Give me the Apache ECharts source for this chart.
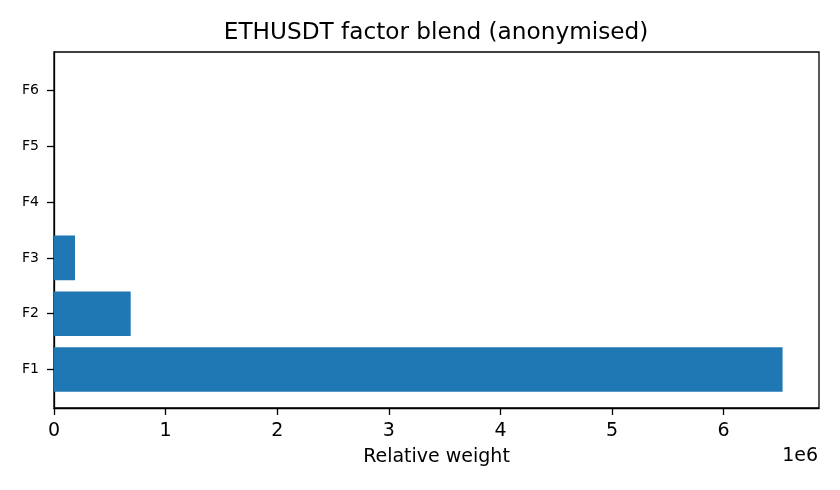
<!DOCTYPE html>
<html><head><meta charset="utf-8">
<script src="https://cdn.jsdelivr.net/npm/echarts@6/dist/echarts.min.js"></script>
<style>html,body{margin:0;padding:0;background:#fff}#c{width:840px;height:490px}</style>
</head><body><div id="c"></div>
<script>
const categories = ["F1", "F2", "F3", "F4", "F5", "F6"];
const weights = [6528000, 687000, 188000, 0, 0, 0];
const xTicks = [0, 1e6, 2e6, 3e6, 4e6, 5e6, 6e6];
const titleText = "ETHUSDT factor blend (anonymised)";
const xLabel = "Relative weight";

const chart = echarts.init(document.getElementById('c'), null, {renderer: 'canvas'});
const font = 'DejaVu Sans';
const maxW = Math.max(...weights) * 1.05;
chart.setOption({
  animation: false,
  grid: {left: 54, right: 21, top: 52, bottom: 82, show: true, borderColor: '#000', borderWidth: 1.3, backgroundColor: 'transparent'},
  xAxis: {
    type: 'value', min: 0, max: maxW,
    name: xLabel, nameLocation: 'middle', nameGap: 40,
    nameTextStyle: {fontFamily: font, fontSize: 19, color: '#000'},
    axisLine: {show: true, onZero: false, lineStyle: {color: '#000', width: 1.3}},
    axisTick: {show: true, length: 7, lineStyle: {color: '#000', width: 1.3}, customValues: xTicks},
    axisLabel: {fontFamily: font, fontSize: 19, color: '#000', margin: 14, customValues: xTicks, formatter: v => String(Math.round(v / 1e6))},
    splitLine: {show: false}
  },
  yAxis: {
    type: 'value', min: -0.69, max: 5.69,
    axisLine: {show: true, onZero: false, lineStyle: {color: '#000', width: 1.3}},
    axisTick: {show: true, length: 7, lineStyle: {color: '#000', width: 1.3}, customValues: categories.map((c, i) => i)},
    axisLabel: {fontFamily: font, fontSize: 14, color: '#000', margin: 15, customValues: categories.map((c, i) => i), formatter: v => categories[Math.round(v)] || ''},
    splitLine: {show: false}
  },
  graphic: [
    {type: 'text', x: 436, y: 33, style: {text: titleText, font: '23.2px "DejaVu Sans"', fill: '#000', align: 'center', verticalAlign: 'middle'}},
    {type: 'text', x: 818, y: 456, style: {text: '1e6', font: '19px "DejaVu Sans"', fill: '#000', align: 'right', verticalAlign: 'middle'}}
  ],
  series: [{
    type: 'custom',
    data: weights.map((w, i) => [w, i]),
    encode: {x: 0, y: 1},
    renderItem: (params, api) => {
      const val = api.value(0), idx = api.value(1);
      const p0 = api.coord([0, idx]);
      const p1 = api.coord([val, idx]);
      const h = api.size([0, 0.8])[1];
      return {type: 'rect', shape: {x: p0[0], y: p0[1] - h / 2, width: p1[0] - p0[0], height: h}, style: {fill: '#1f77b4'}};
    }
  }]
});
</script></body></html>
